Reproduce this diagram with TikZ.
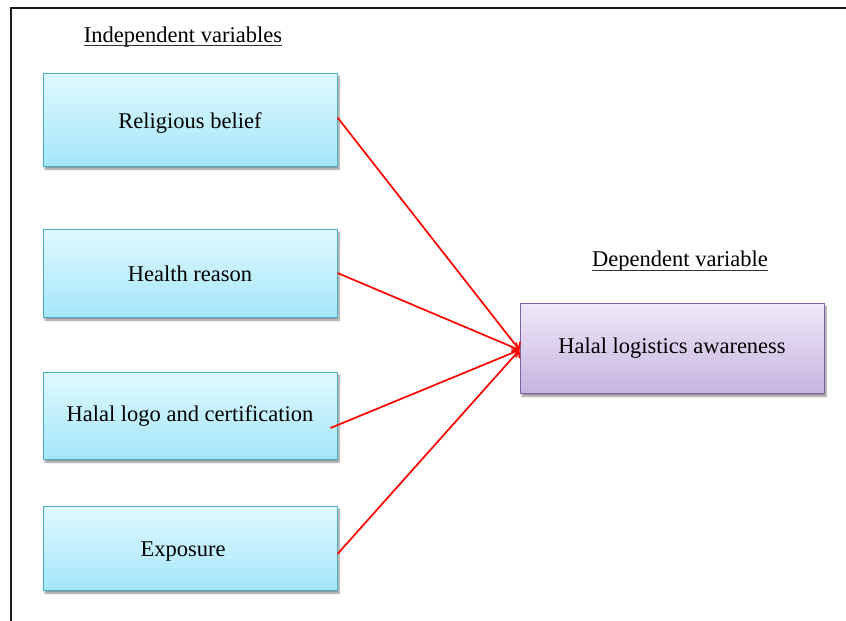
\documentclass[tikz,border=0pt]{standalone}
\usepackage{fontspec}
\setmainfont{Liberation Serif}
\usetikzlibrary{arrows.meta,calc,shadows.blur}

\definecolor{ivtop}{HTML}{E0F8FE}
\definecolor{ivbot}{HTML}{A4E7FA}
\definecolor{ivline}{HTML}{4BACC6}
\definecolor{dvtop}{HTML}{EEE8F6}
\definecolor{dvbot}{HTML}{C6B4E0}
\definecolor{dvline}{HTML}{8064A2}
\definecolor{framegray}{HTML}{1A1A1A}

\tikzset{
  labelfont/.style={font=\fontsize{22.5}{26}\selectfont},
  boxshadow/.style={blur shadow={shadow xshift=2pt, shadow yshift=-3pt,
      shadow blur steps=6, shadow opacity=45}},
  ivbox/.style={labelfont, draw=ivline, line width=1pt, inner sep=0pt,
      top color=ivtop, bottom color=ivbot, boxshadow,
      text height=21.5pt, text depth=4.5pt,
      minimum width=294pt},
  dvbox/.style={labelfont, draw=dvline, line width=1pt, inner sep=0pt,
      top color=dvtop, bottom color=dvbot, boxshadow,
      minimum width=304pt, minimum height=90pt},
  heading/.style={labelfont, inner sep=0pt, anchor=base},
  underlinerule/.style={line width=1.3pt, black!80},
  link/.style={red, line width=1.7pt, -{Straight Barb[length=5pt,width=11pt]}},
}

\begin{document}
\begin{tikzpicture}[x=1pt,y=-1pt]
  \useasboundingbox (0,0) rectangle (846,621);

  % outer frame (top and left edges)
  \draw[framegray, line width=2pt] (846,8.3) -- (11.3,8.3) -- (11.3,621);

  % headings
  \node[heading] (indep) at (183,42.7) {Independent variables};
  \draw[underlinerule] ([yshift=-3pt]indep.base west) -- ([yshift=-3pt]indep.base east);
  \node[heading] (dep) at (680,266.7) {Dependent variable};
  \draw[underlinerule] ([yshift=-3.5pt]dep.base west) -- ([yshift=-3.5pt]dep.base east);

  % independent variables
  \node[ivbox, minimum height=93pt] (rb) at (190,119.5) {Religious belief};
  \node[ivbox, minimum height=88pt] (hr) at (190,273) {Health reason};
  \node[ivbox, minimum height=87pt, text height=17pt] (hl) at (190,415.5) {Halal logo and certification};
  \node[ivbox, minimum height=84pt] (ex) at (190,548) {Exposure\hspace*{14pt}};

  % dependent variable
  \node[dvbox] (la) at (672,348.3) {Halal logistics awareness};

  % relations
  \coordinate (tip) at ([yshift=-1.7pt]la.west);
  \draw[link] ([yshift=2pt]rb.east) -- (tip);
  \draw[link] (hr.east) -- (tip);
  \draw[link] ($(hl.east)+(-7,12.5)$) -- (tip);
  \draw[link] ([yshift=-6pt]ex.east) -- (tip);
\end{tikzpicture}
\end{document}
